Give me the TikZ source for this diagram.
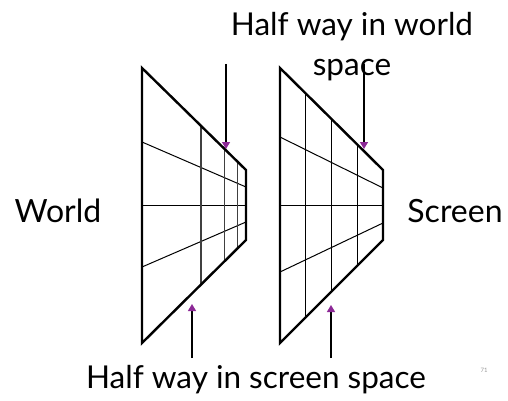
\documentclass[tikz,border=0pt]{standalone}
\usepackage{fontspec}
\setmainfont{Lato}
\usetikzlibrary{arrows.meta,calc}
\definecolor{tippurple}{RGB}{140,40,150}
\definecolor{pagegray}{RGB}{150,150,150}

\begin{document}
\begin{tikzpicture}[
  x=1pt,y=-1pt,
  frame/.style={line width=2.4pt,line join=miter},
  grid/.style={line width=1pt},
  wgrid/.style={line width=1.2pt,black!75},
  arr/.style={-{Triangle[length=7pt,width=8pt,color=tippurple]},line width=1.4pt},
  lbl/.style={font=\fontsize{31.5}{36}\selectfont,anchor=base,inner sep=0pt},
  side/.style={font=\fontsize{32}{38}\selectfont,anchor=base,inner sep=0pt},
  ]
  \useasboundingbox (0,0) rectangle (508,401);
  % world space trapezoid
  \coordinate (wa) at (142,68);
  \coordinate (wb) at (246,170);
  \coordinate (wc) at (246,240);
  \coordinate (wd) at (142,343);
  \draw[grid] (142,142) -- (246,187);
  \draw[grid] (142,205) -- (246,205);
  \draw[grid] (142,267) -- (246,222);
  \foreach \t in {0.567,0.797,0.922}
    \draw[wgrid] ($(wa)!\t!(wb)$) -- ($(wd)!\t!(wc)$);
  \draw[frame] (wa) -- (wb) -- (wc) -- (wd) -- cycle;
  % screen space trapezoid
  \coordinate (sa) at (280,68);
  \coordinate (sb) at (383,170);
  \coordinate (sc) at (383,240);
  \coordinate (sd) at (280,343);
  \draw[grid] (280,137) -- (383,188);
  \draw[grid] (280,205) -- (383,205);
  \draw[grid] (280,272) -- (383,223);
  \foreach \t in {0.25,0.5,0.75}
    \draw[grid] ($(sa)!\t!(sb)$) -- ($(sd)!\t!(sc)$);
  \draw[frame] (sa) -- (sb) -- (sc) -- (sd) -- cycle;
  % pointers
  \coordinate (wt0) at (226,64);  \coordinate (wt1) at (226,149);
  \coordinate (st0) at (364,64);  \coordinate (st1) at (364,149);
  \coordinate (wb0) at (192,358); \coordinate (wb1) at (192,304);
  \coordinate (sb0) at (331,358); \coordinate (sb1) at (331,305);
  \draw[arr] (wt0) -- (wt1);
  \draw[arr] (st0) -- (st1);
  \draw[arr] (wb0) -- (wb1);
  \draw[arr] (sb0) -- (sb1);
  % labels
  \node[lbl] (hw) at (352,36) {Half way in world};
  \node[lbl] (hs) at (352,76) {space};
  \node[side] (world) at (58,222) {World};
  \node[side] (screen) at (455,222) {Screen};
  \node[lbl] (hb) at (256,388) {Half way in screen space};
  \node[font=\fontsize{6}{7}\selectfont,text=pagegray,inner sep=0pt] (pg) at (484,370) {71};
\end{tikzpicture}
\end{document}
